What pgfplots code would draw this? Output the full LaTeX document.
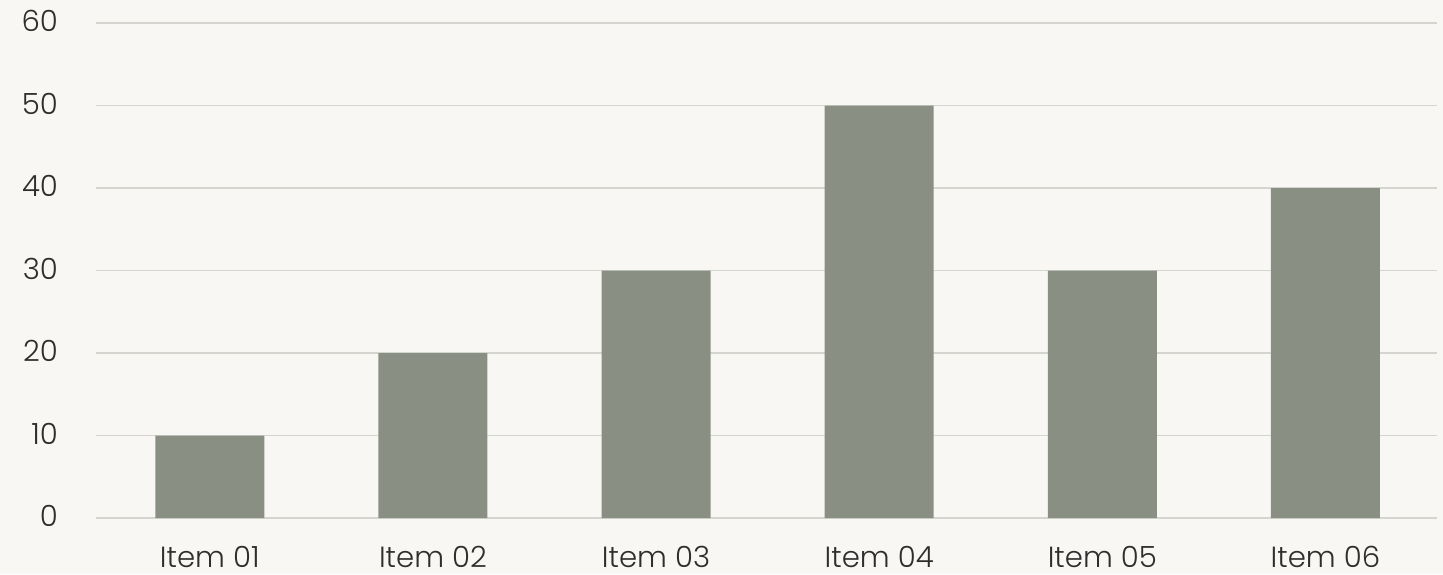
\documentclass[border=0pt]{standalone}
\usepackage{fontspec}
\setmainfont{Poppins}[UprightFont=* Light]
\usepackage{pgfplots}
\pgfplotsset{compat=1.18}
\definecolor{bg}{HTML}{F8F7F3}
\definecolor{barc}{HTML}{8A8F84}
\definecolor{gridc}{HTML}{D4D5CF}
\definecolor{txt}{HTML}{2E2E2E}
\begin{document}
\begin{tikzpicture}[x=1pt,y=1pt]
\fill[bg] (-48,-28) rectangle (673.5,259);
\begin{axis}[
  at={(0,0)}, anchor=south west,
  scale only axis,
  width=670.5pt, height=247.5pt,
  xmin=-0.51, xmax=5.5,
  ymin=0, ymax=60,
  ytick={0,10,20,30,40,50,60},
  xtick={0,1,2,3,4,5},
  xticklabels={Item 01,Item 02,Item 03,Item 04,Item 05,Item 06},
  axis line style={draw=none},
  major tick length=0pt,
  ymajorgrids, grid style={gridc, line width=0.6pt},
  tick label style={font=\fontsize{14.6}{17}\selectfont, text=txt},
  /pgf/number format/assume math mode=true,
  yticklabel style={anchor=east, xshift=-15.5pt, yshift=1pt},
  xticklabel style={anchor=base, inner sep=0pt, text depth=0pt, yshift=-24.5pt},
  clip=false,
]
\addplot[ybar, bar width=54.5pt, fill=barc, draw=none] coordinates {
  (0,10) (1,20) (2,30) (3,50) (4,30) (5,40)
};
\end{axis}
\end{tikzpicture}
\end{document}
